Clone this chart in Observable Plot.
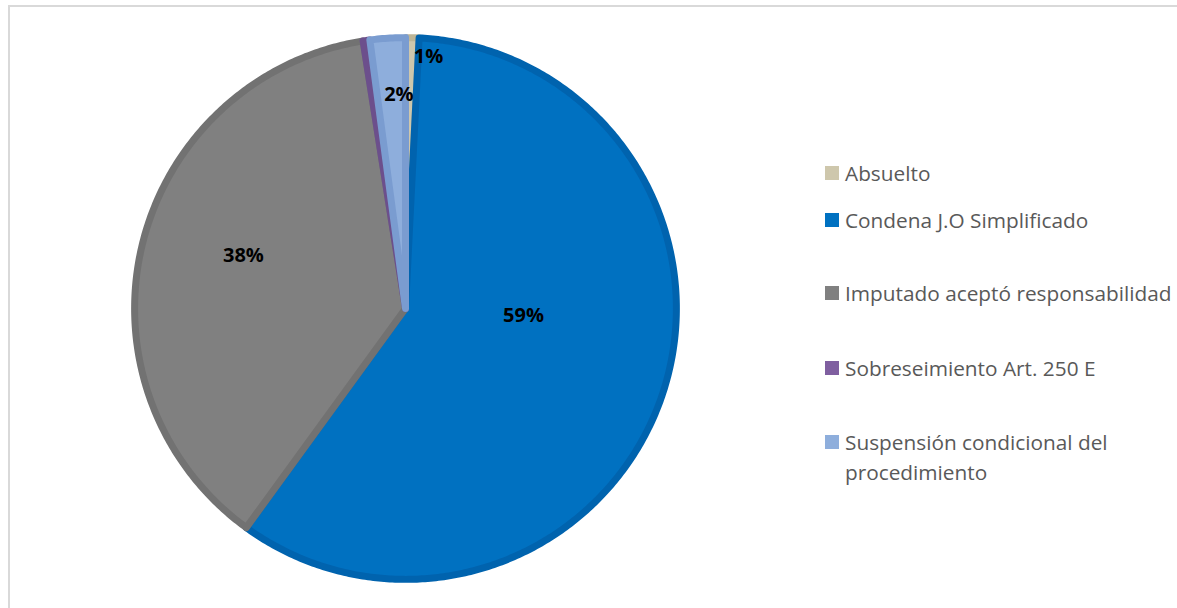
<!DOCTYPE html>
<html>
<head>
<meta charset="utf-8">
<script src="https://cdn.jsdelivr.net/npm/d3@7"></script>
<script src="https://cdn.jsdelivr.net/npm/@observablehq/plot@0.6"></script>
<style>
  html, body { margin: 0; padding: 0; background: #fff; overflow: hidden; }
  #wrap { position: relative; width: 1177px; height: 608px; overflow: hidden; }
  #frame { position: absolute; left: 8px; top: 5px; width: 1200px; height: 700px; border: 2px solid #d9d9d9; box-sizing: border-box; }
  #chart { position: absolute; left: 0; top: 0; }
  #legend { position: absolute; left: 825px; top: 0; font-family: "Open Sans", sans-serif; font-size: 20.8px; color: #595959; }
  .item { position: absolute; left: 0; width: 360px; display: flex; align-items: flex-start; line-height: 30px; white-space: nowrap; }
  .sw { width: 14px; height: 14px; margin-top: 8px; margin-right: 6px; flex: none; }
</style>
</head>
<body>
<div id="wrap">
  <div id="frame"></div>
  <div id="chart"></div>
  <div id="legend"></div>
</div>
<script>
const categories = ["Absuelto", "Condena J.O Simplificado", "Imputado aceptó responsabilidad", "Sobreseimiento Art. 250 E", "Suspensión condicional del procedimiento"];
const values = [0.8, 59.2, 37.5, 0.4, 2.1];
const labels = ["1%", "59%", "38%", "", "2%"];
const fills = ["#cec7ac", "#0071c1", "#808080", "#7f5fa0", "#8eaedc"];
const edges = ["#bdb596", "#0063ae", "#727272", "#6c4f8c", "#7a9cd0"];
const legendLines = [["Absuelto"], ["Condena J.O Simplificado"], ["Imputado aceptó responsabilidad"], ["Sobreseimiento Art. 250 E"], ["Suspensión condicional del", "procedimiento"]];

const R = 0.985; // leave room for edge stroke
const arcs = d3.pie().sort(null).value(d => d)(values);

// label placement: radius fraction and angle shift (radians) per slice, like Excel's best fit
const labelRadius = [0.92, 0.43, 0.62, 0, 0.78];
const labelShift = [0.066, -0.28, 0.08, 0, 0.035];

const pts = [];
const labelData = [];
arcs.forEach((a, i) => {
  const n = Math.max(2, Math.ceil((a.endAngle - a.startAngle) / 0.01));
  pts.push({cat: categories[i], x: 0, y: 0});
  for (let j = 0; j <= n; j++) {
    const t = a.startAngle + (a.endAngle - a.startAngle) * j / n;
    pts.push({cat: categories[i], x: R * Math.sin(t), y: R * Math.cos(t)});
  }
  if (labels[i]) {
    const mid = (a.startAngle + a.endAngle) / 2 + labelShift[i];
    labelData.push({label: labels[i], x: labelRadius[i] * Math.sin(mid), y: labelRadius[i] * Math.cos(mid)});
  }
});

const chart = Plot.plot({
  width: 1177,
  height: 608,
  margin: 0,
  x: {domain: [-1, 1], range: [130, 680], axis: null},
  y: {domain: [-1, 1], range: [583, 33], axis: null},
  color: {domain: categories, range: fills},
  marks: [
    Plot.line(pts, {x: "x", y: "y", z: "cat", fill: "cat", stroke: d => edges[categories.indexOf(d.cat)], strokeWidth: 7, strokeLinejoin: "round", curve: "linear-closed"}),
    Plot.text(labelData, {x: "x", y: "y", text: "label", fontSize: 20, fontWeight: "bold", fill: "#000", fontFamily: "Open Sans, sans-serif"})
  ]
});
document.getElementById("chart").appendChild(chart);

const legendTops = [158, 205, 278, 353, 427];
const lg = document.getElementById("legend");
legendLines.forEach((lines, i) => {
  const it = document.createElement("div");
  it.className = "item";
  it.style.top = legendTops[i] + "px";
  const sw = document.createElement("span");
  sw.className = "sw";
  sw.style.background = fills[i];
  const tx = document.createElement("span");
  tx.innerHTML = lines.join("<br>");
  it.appendChild(sw);
  it.appendChild(tx);
  lg.appendChild(it);
});
</script>
</body>
</html>
